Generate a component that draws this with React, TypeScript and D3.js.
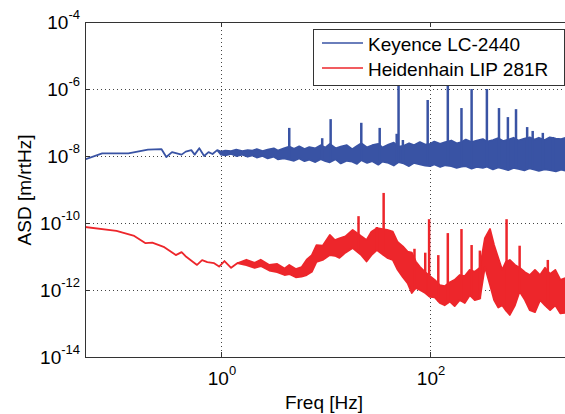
import * as d3 from "d3";
import React from "react";

// Keyence LC-2440 : thin trace below 1 Hz, then noise band (low / high envelope)
const keyFreq = [0.05, 0.073, 0.13, 0.2, 0.27, 0.3, 0.34, 0.42, 0.46, 0.52, 0.56, 0.62, 0.69, 0.76, 0.83, 0.92,
  1, 1.1, 1.25, 1.4, 1.6, 1.8, 2, 2.2, 2.5, 2.8, 3.2, 3.5, 4, 4.5, 5, 5.6, 6.3, 7, 8, 9,
  10, 11, 12.5, 14, 16, 18, 20, 22, 25, 28, 32, 35, 40, 45, 50, 56, 63, 70, 80, 90,
  100, 110, 125, 140, 160, 180, 200, 220, 250, 280, 320, 350, 400, 450, 500, 560, 630, 700, 800, 900,
  1000, 1100, 1250, 1400, 1600, 1800, 2000];
const keyLow = [7.9e-9, 1.2e-8, 1.2e-8, 1.55e-8, 1.6e-8, 9.3e-9, 1.3e-8, 1.1e-8, 1.35e-8, 1.5e-8, 1.1e-8, 1.7e-8, 1.0e-8, 1.3e-8, 1.15e-8, 1.5e-8,
  1.1e-8, 1.05e-8, 1.15e-8, 1.0e-8, 1.1e-8, 0.95e-8, 1.05e-8, 0.9e-8, 1.0e-8, 0.85e-8, 0.95e-8, 0.8e-8, 0.85e-8, 0.78e-8, 0.72e-8, 0.85e-8, 0.7e-8, 0.78e-8, 0.66e-8, 0.8e-8,
  0.7e-8, 0.65e-8, 0.8e-8, 0.6e-8, 0.72e-8, 0.68e-8, 0.58e-8, 0.75e-8, 0.62e-8, 0.7e-8, 0.55e-8, 0.68e-8, 0.62e-8, 0.52e-8, 0.66e-8, 0.6e-8, 0.5e-8, 0.62e-8, 0.56e-8, 0.52e-8,
  0.5e-8, 0.56e-8, 0.47e-8, 0.53e-8, 0.5e-8, 0.44e-8, 0.48e-8, 0.5e-8, 0.42e-8, 0.47e-8, 0.44e-8, 0.48e-8, 0.4e-8, 0.46e-8, 0.42e-8, 0.38e-8, 0.44e-8, 0.41e-8, 0.37e-8, 0.43e-8,
  0.39e-8, 0.36e-8, 0.4e-8, 0.38e-8, 0.35e-8, 0.39e-8, 0.36e-8];
const keyHigh = [7.9e-9, 1.2e-8, 1.2e-8, 1.55e-8, 1.6e-8, 9.3e-9, 1.3e-8, 1.1e-8, 1.35e-8, 1.5e-8, 1.1e-8, 1.7e-8, 1.0e-8, 1.3e-8, 1.15e-8, 1.5e-8,
  1.35e-8, 1.45e-8, 1.4e-8, 1.55e-8, 1.4e-8, 1.5e-8, 1.45e-8, 1.6e-8, 1.4e-8, 1.55e-8, 1.7e-8, 1.45e-8, 1.7e-8, 1.9e-8, 1.65e-8, 1.95e-8, 1.6e-8, 1.85e-8, 1.7e-8, 2.1e-8,
  1.8e-8, 2.3e-8, 1.7e-8, 1.9e-8, 2.1e-8, 1.6e-8, 2.0e-8, 2.4e-8, 1.8e-8, 2.1e-8, 2.3e-8, 1.8e-8, 2.2e-8, 2.5e-8, 1.9e-8, 2.0e-8, 2.4e-8, 2.1e-8, 2.6e-8, 2.2e-8,
  2.3e-8, 2.7e-8, 2.3e-8, 2.6e-8, 2.9e-8, 2.4e-8, 2.6e-8, 3.1e-8, 2.6e-8, 2.9e-8, 3.2e-8, 2.7e-8, 3.0e-8, 3.4e-8, 2.8e-8, 3.1e-8, 3.5e-8, 2.9e-8, 3.3e-8, 3.6e-8,
  3.1e-8, 3.5e-8, 3.0e-8, 3.6e-8, 3.3e-8, 3.2e-8, 3.5e-8];
const keySpikeFreq = [4.5, 9.3, 11.2, 22, 33, 48, 50, 55, 95, 148, 200, 250, 350, 457, 556, 665, 850, 960, 1200, 1500];
const keySpikePeak = [6.9e-8, 3.4e-8, 1.26e-7, 9.8e-8, 6.9e-8, 4.6e-8, 2e-6, 3e-8, 4.7e-7, 2e-6, 2.7e-7, 1.0e-6, 1.0e-6, 2.7e-7, 1.45e-7, 2.5e-7, 7.3e-8, 5.6e-8, 4.9e-8, 3.7e-8];

// Heidenhain LIP 281R
const heidFreq = [0.05, 0.1, 0.148, 0.19, 0.22, 0.287, 0.37, 0.42, 0.465, 0.59, 0.66, 0.74, 0.86, 0.96, 1.08, 1.25, 1.43,
  1.75, 2.1, 2.4, 2.9, 3.45, 4.06, 4.5, 5.2, 5.9, 6.6, 7.4, 8.2, 9.4, 11, 12.3, 13.6, 15.5, 18.2, 22, 24.7,
  27.5, 31, 39, 44, 49, 55, 61, 67, 73, 80, 90, 100, 111, 124, 138, 155, 172, 192, 215, 240,
  268, 300, 335, 375, 410, 450, 490, 530, 580, 650, 720, 810, 900, 1010, 1130, 1260, 1410, 1580, 1770, 2000];
const heidLow = [7.6e-11, 5.8e-11, 4.1e-11, 2.5e-11, 2.6e-11, 1.9e-11, 1.1e-11, 1.35e-11, 9.8e-12, 5.6e-12, 7.8e-12, 6.8e-12, 6.3e-12, 5e-12, 7.3e-12, 4.6e-12, 6.3e-12,
  5.5e-12, 4.6e-12, 5.2e-12, 3.8e-12, 3.4e-12, 2.8e-12, 3.0e-12, 2.4e-12, 2.5e-12, 2.8e-12, 3.5e-12, 6.9e-12, 7.9e-12, 11e-12, 10.5e-12, 9.1e-12, 13e-12, 18e-12, 11e-12, 7.1e-12,
  11e-12, 15.5e-12, 9.1e-12, 7.9e-12, 4.0e-12, 2.4e-12, 1.6e-12, 0.81e-12, 1.15e-12, 1.0e-12, 0.81e-12, 0.62e-12, 0.6e-12, 0.41e-12, 0.35e-12, 0.45e-12, 0.33e-12, 0.5e-12, 0.41e-12, 0.7e-12,
  0.5e-12, 0.55e-12, 4.9e-12, 1.4e-12, 0.5e-12, 0.3e-12, 0.35e-12, 0.25e-12, 0.18e-12, 0.35e-12, 0.9e-12, 0.5e-12, 0.25e-12, 0.22e-12, 0.5e-12, 0.35e-12, 0.25e-12, 0.35e-12, 0.2e-12, 0.21e-12];
const heidHigh = [7.6e-11, 5.8e-11, 4.1e-11, 2.5e-11, 2.6e-11, 1.9e-11, 1.1e-11, 1.35e-11, 9.8e-12, 5.6e-12, 7.8e-12, 6.8e-12, 6.3e-12, 5e-12, 7.3e-12, 4.6e-12, 6.3e-12,
  8.0e-12, 6.5e-12, 8.0e-12, 5.6e-12, 6.0e-12, 4.4e-12, 5.6e-12, 4.2e-12, 4.8e-12, 8.0e-12, 11e-12, 22e-12, 21e-12, 44e-12, 31e-12, 35e-12, 40e-12, 62e-12, 40e-12, 31e-12,
  55e-12, 70e-12, 62e-12, 55e-12, 27e-12, 20e-12, 14e-12, 13e-12, 7.1e-12, 4.9e-12, 3.4e-12, 2.6e-12, 2.0e-12, 1.4e-12, 1.3e-12, 1.7e-12, 2.0e-12, 2.8e-12, 2.6e-12, 4.0e-12,
  3.5e-12, 4.6e-12, 35e-12, 66e-12, 22e-12, 9e-12, 4.0e-12, 6.8e-12, 7.9e-12, 5.6e-12, 4.6e-12, 3.4e-12, 2.8e-12, 4.0e-12, 2.8e-12, 4.6e-12, 3.0e-12, 4.0e-12, 2.0e-12, 2.3e-12];
const heidSpikeFreq = [20.7, 31, 36, 71, 90, 98, 120, 148, 200, 250, 300, 540, 720, 1340];
const heidSpikePeak = [1.6e-10, 7.6e-11, 7.9e-10, 1.7e-11, 1.3e-11, 1.3e-10, 1.1e-11, 5e-11, 6.6e-11, 2.2e-11, 1.5e-11, 1.3e-10, 2.1e-11, 7.9e-12];

const yTickExp = [-14, -12, -10, -8, -6, -4];
const xTickExp = [0, 2];
const seriesNames = ["Keyence LC-2440", "Heidenhain LIP 281R"];

const BLUE = "#3953a4";
const RED = "#ed262b";
const FONT = "'Liberation Sans', Arial, sans-serif";

export default function App() {
  const left = 85, top = 22, right = 566, bottom = 357;
  const x = d3.scaleLog().domain([0.05, 2000]).range([left, right]);
  const y = d3.scaleLog().domain([1e-14, 1e-4]).range([bottom, top]);

  const band = (freq: number[], lo: number[], hi: number[]) =>
    d3.area<number>()
      .x((i) => x(freq[i]))
      .y0((i) => y(lo[i]))
      .y1((i) => y(hi[i]))(d3.range(freq.length)) as string;

  // spikes rise from the lower edge of the band
  const spikes = (freq: number[], lo: number[], sf: number[], sp: number[]) => {
    const base = d3.scaleLog().domain(freq).range(lo.map(Math.log10));
    const line = d3.line();
    return sf.map((f, i) => line([[x(f), y(Math.pow(10, base(f)))], [x(f), y(sp[i])]]) as string);
  };

  const series = [
    { color: BLUE, d: band(keyFreq, keyLow, keyHigh), sp: spikes(keyFreq, keyLow, keySpikeFreq, keySpikePeak) },
    { color: RED, d: band(heidFreq, heidLow, heidHigh), sp: spikes(heidFreq, heidLow, heidSpikeFreq, heidSpikePeak) },
  ];

  return (
    <svg width={565} height={414} style={{ position: "absolute", left: 0, top: 0, background: "#fff" }}
      fontFamily={FONT}>
      <defs>
        <clipPath id="plot"><rect x={left} y={top} width={right - left} height={bottom - top} /></clipPath>
      </defs>
      {/* grid */}
      <g stroke="#444" strokeWidth={1} strokeDasharray="1 3">
        {yTickExp.slice(1, -1).map((e) => (
          <line key={e} x1={left} x2={right} y1={Math.round(y(10 ** e)) + 0.5} y2={Math.round(y(10 ** e)) + 0.5} />
        ))}
        {xTickExp.map((e) => (
          <line key={e} y1={top} y2={bottom} x1={Math.round(x(10 ** e)) + 0.5} x2={Math.round(x(10 ** e)) + 0.5} />
        ))}
      </g>
      {/* data */}
      <g clipPath="url(#plot)">
        {series.map((s, k) => (
          <g key={k}>
            <path d={s.d} fill={s.color} stroke={s.color} strokeWidth={1.8} strokeLinejoin="round" />
            {s.sp.map((d, i) => <path key={i} d={d} stroke={s.color} strokeWidth={2.5} fill="none" />)}
          </g>
        ))}
      </g>
      {/* axes box */}
      <g stroke="#333" strokeWidth={1} fill="none">
        <line x1={left + 0.5} x2={left + 0.5} y1={top} y2={bottom} />
        <line x1={left} x2={right} y1={top + 0.5} y2={top + 0.5} />
        <line x1={left} x2={right} y1={bottom + 0.5} y2={bottom + 0.5} />
        {yTickExp.map((e) => (
          <line key={e} x1={left} x2={left + 5} y1={Math.round(y(10 ** e)) + 0.5} y2={Math.round(y(10 ** e)) + 0.5} />
        ))}
        {xTickExp.map((e) => (
          <g key={e}>
            <line x1={Math.round(x(10 ** e)) + 0.5} x2={Math.round(x(10 ** e)) + 0.5} y1={bottom} y2={bottom - 5} />
            <line x1={Math.round(x(10 ** e)) + 0.5} x2={Math.round(x(10 ** e)) + 0.5} y1={top} y2={top + 5} />
          </g>
        ))}
      </g>
      {/* tick labels */}
      <g fontSize={19} fill="#000">
        {yTickExp.map((e) => (
          <text key={e} x={80} y={y(10 ** e) + 7} textAnchor="end">
            10<tspan fontSize={13} dy={-10}>{String(e)}</tspan>
          </text>
        ))}
        {xTickExp.map((e) => (
          <text key={e} x={x(10 ** e) + 1} y={385} textAnchor="middle">
            10<tspan fontSize={13} dy={-10}>{String(e)}</tspan>
          </text>
        ))}
      </g>
      <text x={324} y={409} fontSize={19} textAnchor="middle">Freq [Hz]</text>
      <text transform="translate(31,190) rotate(-90)" fontSize={19} textAnchor="middle">ASD [m/rtHz]</text>
      {/* legend */}
      <g>
        <rect x={313.5} y={29.5} width={251} height={56} fill="#fff" stroke="#333" strokeWidth={1} />
        {seriesNames.map((n, i) => (
          <g key={n}>
            <line x1={322} x2={363} y1={43 + i * 25} y2={43 + i * 25} stroke={i === 0 ? BLUE : RED} strokeWidth={1.5} />
            <text x={368} y={51 + i * 25} fontSize={19}>{n}</text>
          </g>
        ))}
      </g>
    </svg>
  );
}
